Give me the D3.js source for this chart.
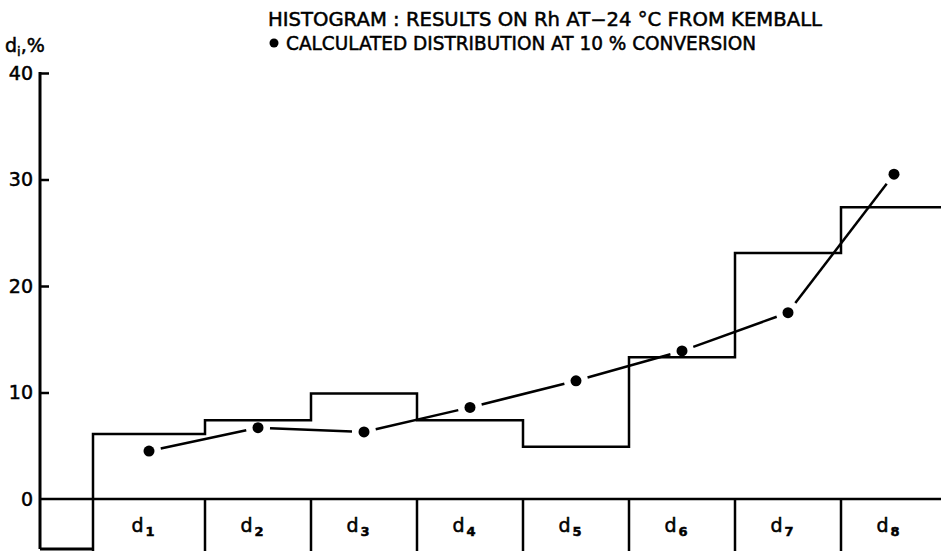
<!DOCTYPE html>
<html>
<head>
<meta charset="utf-8">
<script src="https://cdn.jsdelivr.net/npm/d3@7"></script>
<style>
  body { margin: 0; background: #fff; }
  svg text { font-family: "DejaVu Sans", "Liberation Sans", sans-serif; fill: #000; stroke: #000; stroke-width: 0.5px; }
</style>
</head>
<body>
<div id="canvas"></div>
<script>
// data
var bins = ["1", "2", "3", "4", "5", "6", "7", "8"]          // d subscripts
var histValues = [6.1, 7.4, 9.9, 7.4, 4.9, 13.3, 23.1, 27.4]  // Kemball histogram, %
var calcValues = [4.5, 6.7, 6.3, 8.6, 11.1, 13.9, 17.5, 30.5] // calculated at 10% conversion
var yTicks = [0, 10, 20, 30, 40]
var title1 = "HISTOGRAM : RESULTS ON Rh AT\u221224 \u00B0C FROM KEMBALL"
var title2 = "CALCULATED DISTRIBUTION AT 10 % CONVERSION"

var width = 941
var height = 551
var axisX = 40
var bottomY = 549

var svg = d3.select("#canvas")
    .append("svg")
    .attr("width", width)
    .attr("height", height)

// first bin is a bit wider in the original drawing
var xScale = d3.scaleLinear().domain([0, 1, 8]).range([93, 205, 947])
var yScale = d3.scaleLinear().domain([0, 40]).range([499, 73])

// y axis
svg.append("line")
    .attr("x1", axisX).attr("x2", axisX)
    .attr("y1", yScale(40) - 1).attr("y2", bottomY)
    .attr("stroke", "#000").attr("stroke-width", 3)

var yAxis = svg.append("g")
    .attr("transform", `translate(${axisX},0)`)
    .call(d3.axisLeft(yScale)
        .tickValues(yTicks)
        .tickSizeInner(-9)
        .tickSizeOuter(0)
        .tickPadding(7))
yAxis.select(".domain").remove()
yAxis.selectAll(".tick line").attr("stroke", "#000").attr("stroke-width", 2.5)
yAxis.selectAll(".tick text")
    .attr("font-size", 19)
    .attr("font-family", "DejaVu Sans")
    .attr("fill", "#000")
yAxis.selectAll(".tick").filter(function (d) { return d === 0 }).select("line").remove()

// zero line
svg.append("line")
    .attr("x1", axisX).attr("x2", width)
    .attr("y1", yScale(0)).attr("y2", yScale(0))
    .attr("stroke", "#000").attr("stroke-width", 2.5)

// boxes under the zero line
var edges = d3.range(0, bins.length + 1)
svg.selectAll(".sep")
    .data(edges)
    .enter()
    .append("line")
    .attr("class", "sep")
    .attr("x1", function (d) { return xScale(d) })
    .attr("x2", function (d) { return xScale(d) })
    .attr("y1", yScale(0))
    .attr("y2", height)
    .attr("stroke", "#000").attr("stroke-width", 2.5)

svg.append("line")
    .attr("x1", axisX).attr("x2", xScale(0))
    .attr("y1", bottomY).attr("y2", bottomY)
    .attr("stroke", "#000").attr("stroke-width", 3)

var binLabels = svg.selectAll(".binlabel")
    .data(bins)
    .enter()
    .append("text")
    .attr("class", "binlabel")
    .attr("x", function (d, i) { return xScale(i + 0.5) - 6 })
    .attr("y", 532)
    .attr("font-size", 19)
    .attr("text-anchor", "middle")
binLabels.append("tspan").text("d")
binLabels.append("tspan").attr("dy", 4).attr("dx", 2).attr("font-size", 13).attr("font-weight", "bold")
    .text(function (d) { return d })

// histogram
var histPoints = [[xScale(0), yScale(0)]]
histValues.forEach(function (v, i) {
    histPoints.push([xScale(i), yScale(v)])
    histPoints.push([Math.min(xScale(i + 1), width + 2), yScale(v)])
})
svg.append("path")
    .attr("d", d3.line()(histPoints))
    .attr("fill", "none")
    .attr("stroke", "#000")
    .attr("stroke-width", 2.5)
    .attr("stroke-linejoin", "miter")

// calculated distribution: dots joined by lines broken near each dot
var calcPts = calcValues.map(function (v, i) { return [xScale(i + 0.5), yScale(v)] })
var gap = 12
for (var i = 0; i < calcPts.length - 1; i++) {
    var a = calcPts[i], b = calcPts[i + 1]
    var dx = b[0] - a[0], dy = b[1] - a[1]
    var len = Math.sqrt(dx * dx + dy * dy)
    svg.append("line")
        .attr("x1", a[0] + dx / len * gap).attr("y1", a[1] + dy / len * gap)
        .attr("x2", b[0] - dx / len * gap).attr("y2", b[1] - dy / len * gap)
        .attr("stroke", "#000").attr("stroke-width", 2.5)
}
svg.selectAll(".dot")
    .data(calcPts)
    .enter()
    .append("circle")
    .attr("class", "dot")
    .attr("cx", function (d) { return d[0] })
    .attr("cy", function (d) { return d[1] })
    .attr("r", 5.5)
    .attr("fill", "#000")

// titles
svg.append("text")
    .attr("x", 268).attr("y", 26)
    .attr("font-size", 19)
    .attr("textLength", 554)
    .attr("lengthAdjust", "spacingAndGlyphs")
    .text(title1)
svg.append("circle")
    .attr("cx", 274).attr("cy", 43).attr("r", 4.5).attr("fill", "#000")
svg.append("text")
    .attr("x", 286).attr("y", 50)
    .attr("font-size", 19)
    .attr("textLength", 470)
    .attr("lengthAdjust", "spacingAndGlyphs")
    .text(title2)

// y label d_i,%
var ylab = svg.append("text")
    .attr("x", 5).attr("y", 52)
    .attr("font-size", 19)
ylab.append("tspan").text("d")
ylab.append("tspan").attr("dy", 4).attr("font-size", 13).text("i")
ylab.append("tspan").attr("dy", -4).text(",%")
</script>
</body>
</html>
